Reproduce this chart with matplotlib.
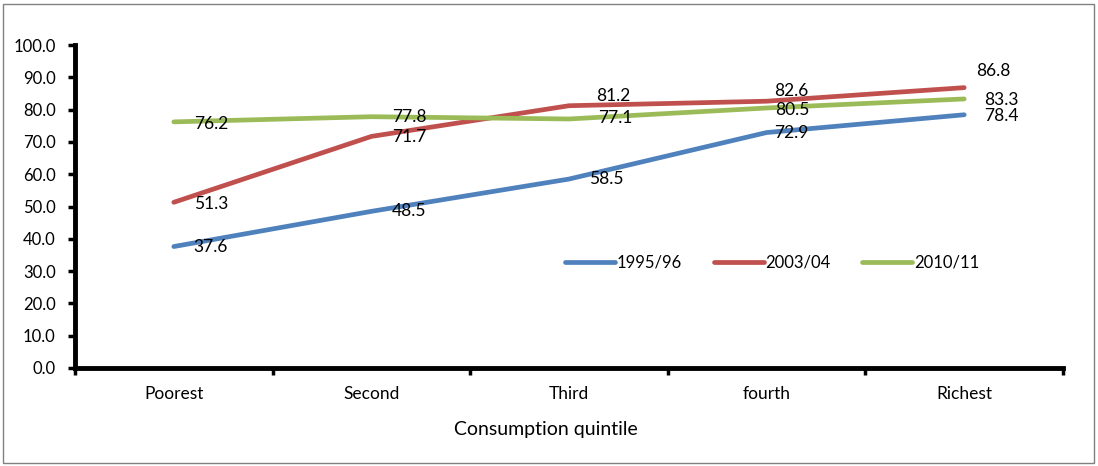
import matplotlib
matplotlib.use("Agg")
import matplotlib.pyplot as plt
from matplotlib.patches import Rectangle
from matplotlib.ticker import FixedLocator

categories = ["Poorest", "Second", "Third", "fourth", "Richest"]
s1995 = [37.6, 48.5, 58.5, 72.9, 78.4]
s2003 = [51.3, 71.7, 81.2, 82.6, 86.8]
s2010 = [76.2, 77.8, 77.1, 80.5, 83.3]
series_names = ["1995/96", "2003/04", "2010/11"]
colors = ["#4F81BD", "#C0504D", "#9BBB59"]

# label offsets in pixels (dx, dy) with dy positive = up
offsets = {
    0: [(20, 0), (20, 0), (20, 0), (8, 0), (20, -1)],
    1: [(20, -2), (21, -1), (27, 10), (8, 10), (12, 17)],
    2: [(20, -2), (21, 0), (29, 1), (9, -2), (20, -1)],
}

plt.rcParams['font.family'] = ['Lato', 'DejaVu Sans']
fig = plt.figure(figsize=(10.98, 4.66), dpi=100)
ax = fig.add_axes([75/1098, 1-368/466, 988/1098, 323/466])

x = list(range(len(categories)))
for i, (vals, name, c) in enumerate(zip([s1995, s2003, s2010], series_names, colors)):
    ax.plot(x, vals, color=c, lw=3.4, solid_capstyle='round', solid_joinstyle='round', label=name, zorder=3)
    for j, v in enumerate(vals):
        dx, dy = offsets[i][j]
        ax.annotate(f"{v:.1f}", (x[j], v), xytext=(dx, dy), textcoords='offset pixels',
                    ha='left', va='center', fontsize=12.5, color='black', zorder=4)

ax.set_xlim(-0.5, 4.5)
ax.set_ylim(0, 100)
ax.set_yticks([i*10 for i in range(11)])
ax.set_yticklabels([f"{i*10:.1f}" for i in range(11)], fontsize=12)
ax.set_xticks(x)
ax.set_xticklabels(categories, fontsize=12.5)
ax.xaxis.set_minor_locator(FixedLocator([k - 0.5 for k in range(6)]))
ax.tick_params(axis='x', which='major', length=0, pad=13)
ax.tick_params(axis='x', which='minor', length=5, width=2.5, direction='out')
ax.tick_params(axis='y', length=5, width=2.5, direction='out', pad=9)
for s in ['top', 'right']:
    ax.spines[s].set_visible(False)
for s in ['left', 'bottom']:
    ax.spines[s].set_linewidth(3.5)
    ax.spines[s].set_capstyle('projecting')
ax.set_xlabel("Consumption quintile", fontsize=14)
ax.xaxis.set_label_coords((546-75)/988, -(430-368)/323)
ax.xaxis.label.set_va('center')

leg = ax.legend(loc='center', bbox_to_anchor=(772/1098, 1-263/466), bbox_transform=fig.transFigure,
                ncol=3, frameon=False, fontsize=12, handlelength=3.0, handletextpad=0.1,
                columnspacing=1.9)

fig.patches.append(Rectangle((3/1098, 3/466), 1091/1098, 459/466, transform=fig.transFigure,
                             fill=False, edgecolor='#808080', lw=1))
fig.savefig("out.png", dpi=100)
